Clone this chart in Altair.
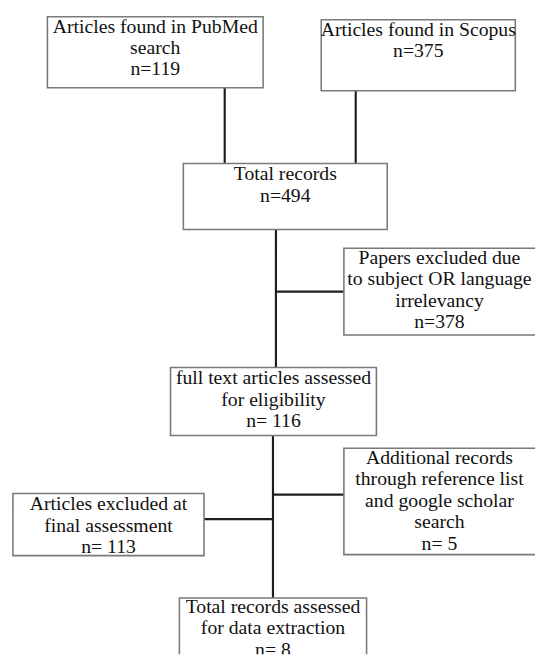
import altair as alt
import pandas as pd

# ---- content ----
labels = [
    "Articles found in PubMed\nsearch\nn=119",
    "Articles found in Scopus\nn=375",
    "Total records\nn=494",
    "Papers excluded due\nto subject OR language\nirrelevancy\nn=378",
    "full text articles assessed\nfor eligibility\nn= 116",
    "Additional records\nthrough reference list\nand google scholar\nsearch\nn= 5",
    "Articles excluded at\nfinal assessment\nn= 113",
    "Total records assessed\nfor data extraction\nn= 8",
]
# box layout in page pixels (left, right, top, bottom)
box_x0 = [48, 326, 186, 349, 173, 349, 13, 182]
box_x1 = [267, 523, 393, 545, 382, 545, 207, 372]
box_y0 = [12, 15, 161, 247, 368, 450, 496, 602]
box_y1 = [84, 87, 228, 335, 437, 558, 559, 700]
# first text line centre, measured from box top
text_off = [10, 10, 11, 10, 11, 10, 11, 9]

# connectors (x1, x2, y1, y2)
con_x1 = [228, 361, 280, 280, 277, 277, 207]
con_x2 = [228, 361, 280, 349, 277, 349, 277]
con_y1 = [84, 87, 228, 291, 437, 497, 522]
con_y2 = [161, 161, 368, 291, 602, 497, 522]

LINE_H = 21.7

boxes = pd.DataFrame({"x0": box_x0, "x1": box_x1, "y0": box_y0, "y1": box_y1})
cons = pd.DataFrame({"x1": con_x1, "x2": con_x2, "y1": con_y1, "y2": con_y2})

rows = []
for lab, x0, x1, y0, off in zip(labels, box_x0, box_x1, box_y0, text_off):
    cx = (x0 + min(x1, 543)) / 2
    for i, line in enumerate(lab.split("\n")):
        rows.append({"x": cx, "y": y0 + off + i * LINE_H, "t": line})
texts = pd.DataFrame(rows)

xs = alt.Scale(domain=[8, 543], nice=False, zero=False)
ys = alt.Scale(domain=[659, 8], nice=False, zero=False)

rect = alt.Chart(boxes).mark_rect(
    fill="white", stroke="#7a7a7a", strokeWidth=1.6, clip=True
).encode(
    x=alt.X("x0:Q", scale=xs, axis=None),
    x2="x1:Q",
    y=alt.Y("y0:Q", scale=ys, axis=None),
    y2="y1:Q",
)

rule = alt.Chart(cons).mark_rule(stroke="#1e1e1e", strokeWidth=2.2, clip=True).encode(
    x=alt.X("x1:Q", scale=xs, axis=None),
    x2="x2:Q",
    y=alt.Y("y1:Q", scale=ys, axis=None),
    y2="y2:Q",
)

text = alt.Chart(texts).mark_text(
    font="Liberation Serif", fontSize=20, color="#111111",
    align="center", baseline="middle", clip=True
).encode(
    x=alt.X("x:Q", scale=xs, axis=None),
    y=alt.Y("y:Q", scale=ys, axis=None),
    text="t:N",
)

chart = (rule + rect + text).properties(
    width=535, height=651, padding=0, autosize=alt.AutoSizeParams(type="none")
).configure_view(stroke=None)

chart.save("out.html", embed_options={"renderer": "svg", "actions": False})
